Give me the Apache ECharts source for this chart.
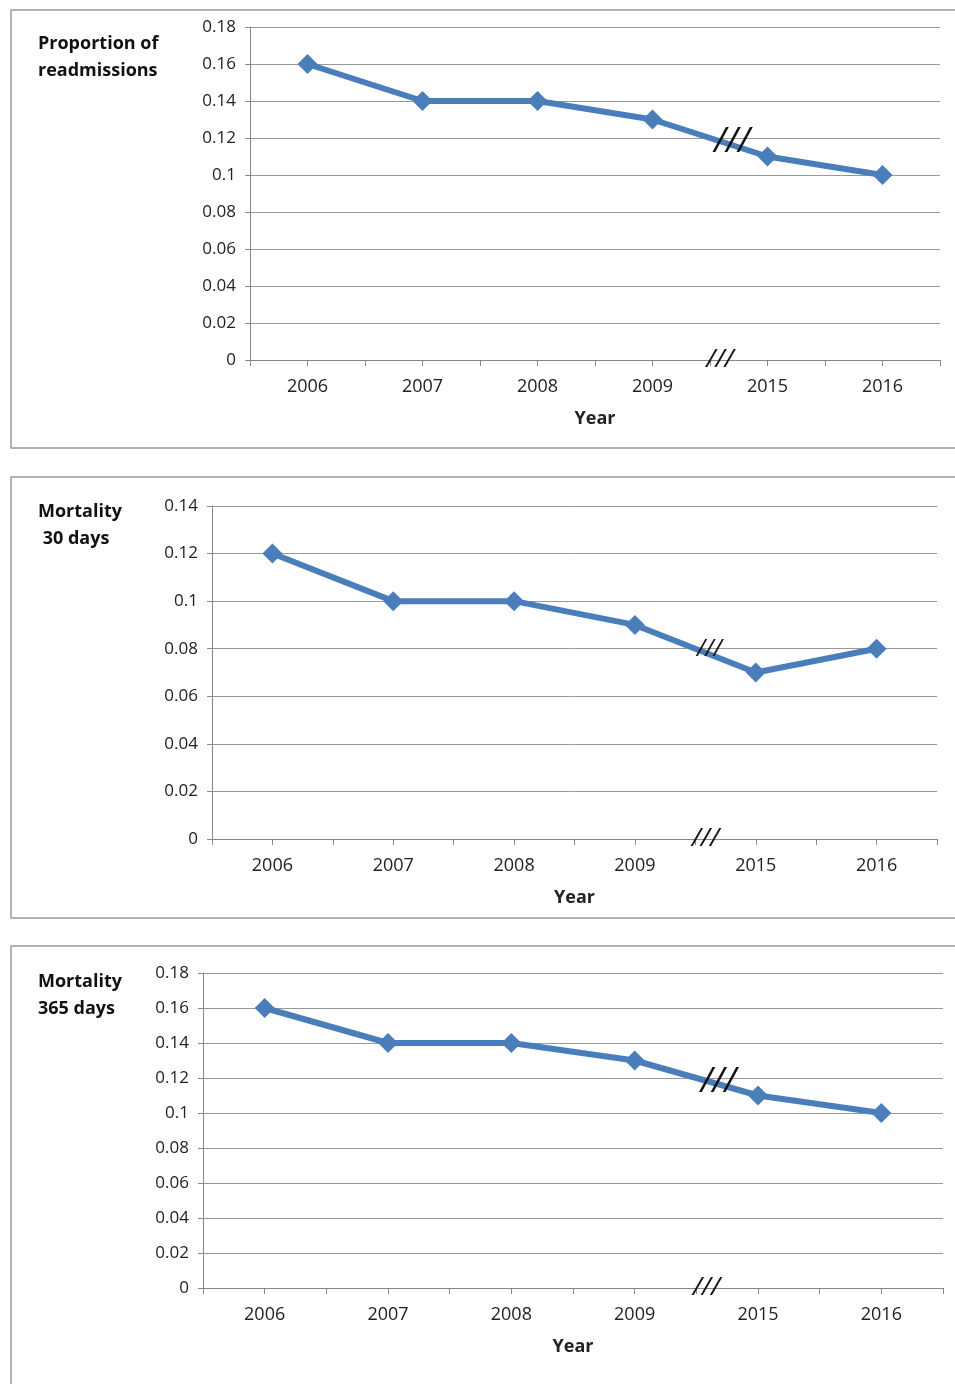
<!DOCTYPE html>
<html><head><meta charset="utf-8">
<script src="https://cdn.jsdelivr.net/npm/echarts@6/dist/echarts.min.js"></script>
<style>html,body{margin:0;background:#fff}#c{width:955px;height:1384px}</style>
</head><body><div id="c"></div>
<script>
const years = ['2006', '2007', '2008', '2009', '2015', '2016'];
const readmissions = [0.16, 0.14, 0.14, 0.13, 0.11, 0.10];
const mortality30 = [0.12, 0.10, 0.10, 0.09, 0.07, 0.08];
const mortality365 = [0.16, 0.14, 0.14, 0.13, 0.11, 0.10];
const panelTitles = ['Proportion of\nreadmissions', 'Mortality\n 30 days', 'Mortality\n365 days'];
const yMax = [0.18, 0.14, 0.18];

const chart = echarts.init(document.getElementById('c'));
const grids = [
  { left: 250, right: 15, top: 27, height: 333 },
  { left: 212, right: 18, top: 506, height: 333 },
  { left: 203, right: 12, top: 973, height: 315 }
];
const boxes = [[11, 10, 960, 438], [11, 477, 960, 441], [11, 946, 960, 450]];
const titlePos = [[38, 30], [38, 498], [38, 968]];
const lineColor = '#4a7ebb';
const font = 'Open Sans, Liberation Sans, sans-serif';

const xAxis = [], yAxis = [], series = [];
[readmissions, mortality30, mortality365].forEach((data, i) => {
  xAxis.push({
    type: 'category', gridIndex: i, data: years, boundaryGap: true,
    axisLine: { lineStyle: { color: '#888' } },
    axisTick: { show: true, length: 6, lineStyle: { color: '#888' } },
    axisLabel: { color: '#222', fontSize: 18, margin: 18, fontFamily: font },
    name: 'Year', nameLocation: 'middle', nameGap: 50,
    nameTextStyle: { color: '#222', fontSize: 18, fontWeight: 'bold', fontFamily: font }
  });
  xAxis.push({
    type: 'category', gridIndex: i, data: years, position: 'bottom',
    axisLine: { show: false }, axisLabel: { show: false },
    axisTick: { show: true, alignWithLabel: true, length: 6, lineStyle: { color: '#888' } }
  });
  yAxis.push({
    type: 'value', gridIndex: i, min: 0, max: yMax[i], interval: 0.02,
    axisLine: { show: true, lineStyle: { color: '#888' } },
    axisTick: { show: true, length: 5, lineStyle: { color: '#888' } },
    splitLine: { lineStyle: { color: '#999', width: 1 } },
    axisLabel: { color: '#222', fontSize: 17, margin: 14, fontFamily: font }
  });
  series.push({
    type: 'line', xAxisIndex: i * 2, yAxisIndex: i, data: data,
    symbol: 'diamond', symbolSize: 20,
    lineStyle: { color: lineColor, width: 6 },
    itemStyle: { color: lineColor }
  });
});

const graphics = [];
boxes.forEach(b => graphics.push({ type: 'rect', shape: { x: b[0], y: b[1], width: b[2], height: b[3] }, style: { fill: 'none', stroke: '#999', lineWidth: 1.5 }, z: -1 }));
panelTitles.forEach((t, i) => graphics.push({ type: 'text', x: titlePos[i][0], y: titlePos[i][1], style: { text: t, fill: '#111', font: 'bold 18px ' + font, lineHeight: 27 } }));

chart.setOption({ animation: false, grid: grids, xAxis, yAxis, series, graphic: graphics });

// break marks between 2009 and 2015, placed through the axis scales
[readmissions, mortality30, mortality365].forEach((data, i) => {
  const a = chart.convertToPixel({ seriesIndex: i }, [3, data[3]]);
  const b = chart.convertToPixel({ seriesIndex: i }, [4, data[4]]);
  const axisY = chart.convertToPixel({ yAxisIndex: i }, 0);
  const mx = (a[0] + b[0]) / 2, my = (a[1] + b[1]) / 2;
  const big = i === 1 ? 24 : 34;
  const off = i === 1 ? 14 : 22;
  graphics.push({ type: 'text', x: mx + off, y: my + (i === 1 ? 0 : 4), style: { text: '///', fill: '#111', font: 'italic ' + big + 'px ' + font, align: 'center', verticalAlign: 'middle' }, z: 10 });
  graphics.push({ type: 'text', x: mx + 10, y: axisY, style: { text: '///', fill: '#111', font: 'italic 26px ' + font, align: 'center', verticalAlign: 'middle' }, z: 10 });
});
chart.setOption({ graphic: graphics });
</script></body></html>
